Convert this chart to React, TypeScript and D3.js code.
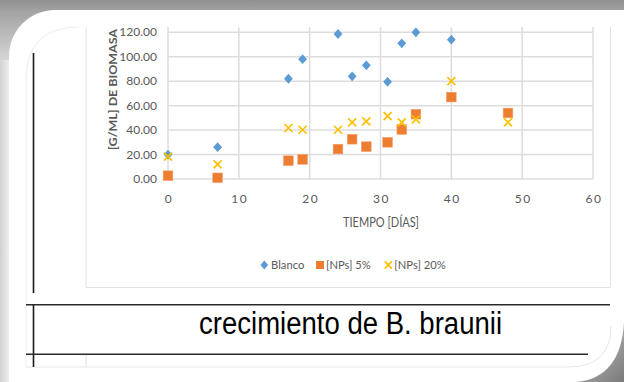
import React from 'react';
import * as d3 from 'd3';

// ---- data ----
const blancoDays = [0, 7, 17, 19, 24, 26, 28, 31, 33, 35, 40];
const blancoValues = [20, 26, 82, 98, 118.6, 84, 93, 79.5, 111, 120, 114];
const nps5Days = [0, 7, 17, 19, 24, 26, 28, 31, 33, 35, 40, 48];
const nps5Values = [2.7, 1, 15, 16, 24.5, 32.5, 26.5, 30, 40.5, 53, 67, 54];
const nps20Days = [0, 7, 17, 19, 24, 26, 28, 31, 33, 35, 40, 48];
const nps20Values = [18.3, 12, 41.7, 40.3, 40.3, 46.3, 47.2, 51.5, 46.4, 48.8, 80, 46.4];
const xTicks = [0, 10, 20, 30, 40, 50, 60];
const yTicks = [0, 20, 40, 60, 80, 100, 120];
const legendLabels = ['Blanco', '[NPs] 5%', '[NPs] 20%'];
const yTitle = '[G/ML] DE BIOMASA';
const xTitle = 'TIEMPO [DÍAS]';
const caption = 'crecimiento de B. braunii';

const W = 624;
const H = 382;
const BLUE = '#5B9BD5';
const ORANGE = '#ED7D31';
const YELLOW = '#FFC000';
const GRID = '#dcdcdc';
const TXT = '#595959';
const FONT = 'Lato, "Open Sans", sans-serif';

function diamondPath(w: number, h: number) {
  const p = d3.path();
  p.moveTo(0, -h);
  p.lineTo(w, 0);
  p.lineTo(0, h);
  p.lineTo(-w, 0);
  p.closePath();
  return p.toString();
}

export default function App() {
  const x = d3.scaleLinear().domain([0, 60]).range([168, 593]);
  const y = d3.scaleLinear().domain([0, 120]).range([179, 32.3]);
  const plotTop = 27;

  const diamond = diamondPath(4.4, 4.9);
  const diamondSmall = diamondPath(3.8, 4.4);

  const xMark = (cx: number, cy: number, r: number, key: string) => (
    <path
      key={key}
      d={`M${cx - r},${cy - r}L${cx + r},${cy + r}M${cx - r},${cy + r}L${cx + r},${cy - r}`}
      stroke={YELLOW}
      strokeWidth={1.7}
      fill="none"
    />
  );

  return (
    <svg width={W} height={H} style={{ position: 'fixed', left: 0, top: 0 }}>
      <defs>
        <linearGradient id="bg" x1="0" y1="0" x2="0" y2="1">
          <stop offset="0" stopColor="#8f8f8f" />
          <stop offset="0.03" stopColor="#a3a3a3" />
          <stop offset="0.16" stopColor="#d6d6d6" />
          <stop offset="1" stopColor="#dedede" />
        </linearGradient>
        <linearGradient id="leftStrip" x1="0" y1="0" x2="1" y2="0">
          <stop offset="0" stopColor="#d2d2d2" />
          <stop offset="1" stopColor="#eeeeee" />
        </linearGradient>
        <linearGradient id="shadow" x1="0.2" y1="0" x2="1" y2="1">
          <stop offset="0" stopColor="#d4d4d4" />
          <stop offset="0.5" stopColor="#a0a0a0" />
          <stop offset="1" stopColor="#7a7a7a" />
        </linearGradient>
      </defs>

      {/* frame background */}
      <rect x={0} y={0} width={W} height={H} fill="url(#bg)" />
      <rect x={0} y={60} width={9} height={H - 60} fill="url(#leftStrip)" />
      <path d={`M9,56 A46,46 0 0 1 55,10 L${W},10 L${W},${H} L9,${H} Z`} fill="#ffffff" />
      <path d={`M${W},322 Q${W - 3},378 576,${H} L${W},${H} Z`} fill="url(#shadow)" />

      {/* faint card outline */}
      <path d="M26,367 L26,80 Q26,27 79,27" fill="none" stroke="#ececec" strokeWidth={1} />
      <path d="M26,367 L568,367 Q611,367 611,326" fill="none" stroke="#e6e6e6" strokeWidth={1} />

      {/* chart area border */}
      <line x1={86} x2={86} y1={plotTop} y2={287} stroke="#e2e2e2" strokeWidth={1} />
      <line x1={610.5} x2={610.5} y1={plotTop} y2={287} stroke="#e2e2e2" strokeWidth={1} />
      <line x1={86} x2={610.5} y1={287.5} y2={287.5} stroke="#e2e2e2" strokeWidth={1} />

      {/* gridlines */}
      {yTicks.map((t) => (
        <line key={'gy' + t} x1={x(0)} x2={x(60)} y1={y(t)} y2={y(t)} stroke={GRID} strokeWidth={1.5} />
      ))}
      {xTicks.map((t) => (
        <line key={'gx' + t} x1={x(t)} x2={x(t)} y1={plotTop} y2={y(0)} stroke={GRID} strokeWidth={1.5} />
      ))}

      {/* tick labels */}
      {yTicks.map((t) => (
        <text key={'ly' + t} x={157} y={y(t) + 4} textAnchor="end" fontFamily={FONT} fontSize={12} fill={TXT}>
          {t.toFixed(2)}
        </text>
      ))}
      {xTicks.map((t) => (
        <text
          key={'lx' + t}
          x={x(t) + 1}
          y={203}
          textAnchor="middle"
          fontFamily={FONT}
          fontSize={12}
          letterSpacing={1.5}
          fill={TXT}
        >
          {t}
        </text>
      ))}

      {/* axis titles */}
      <text
        transform="translate(116.5,89.5) rotate(-90)"
        textAnchor="middle"
        fontFamily={FONT}
        fontSize={12}
        fontWeight={700}
        fill={TXT}
        textLength={121}
        lengthAdjust="spacingAndGlyphs"
      >
        {yTitle}
      </text>
      <text
        x={381}
        y={226.5}
        textAnchor="middle"
        fontFamily={FONT}
        fontSize={12.5}
        fill={TXT}
        textLength={76}
        lengthAdjust="spacingAndGlyphs"
      >
        {xTitle}
      </text>

      {/* series */}
      {blancoDays.map((d, i) => (
        <path key={'b' + i} d={diamond} transform={`translate(${x(d)},${y(blancoValues[i])})`} fill={BLUE} />
      ))}
      {nps5Days.map((d, i) => (
        <rect
          key={'o' + i}
          x={x(d) - 4.8}
          y={y(nps5Values[i]) - 4.8}
          width={9.6}
          height={9.6}
          fill={ORANGE}
          stroke="#f19a63"
          strokeWidth={0.6}
        />
      ))}
      {nps20Days.map((d, i) => xMark(x(d), y(nps20Values[i]), 4, 'y' + i))}

      {/* legend */}
      <path d={diamondSmall} transform="translate(264.3,265)" fill={BLUE} />
      <text x={271} y={269} fontFamily={FONT} fontSize={12} fill={TXT} textLength={33.3} lengthAdjust="spacingAndGlyphs">
        {legendLabels[0]}
      </text>
      <rect x={316} y={261} width={8} height={8} fill={ORANGE} />
      <text x={326} y={269} fontFamily={FONT} fontSize={12} fill={TXT} textLength={44.7} lengthAdjust="spacingAndGlyphs">
        {legendLabels[1]}
      </text>
      {xMark(388.3, 265, 3.6, 'legx')}
      <text x={394.3} y={269} fontFamily={FONT} fontSize={12} fill={TXT} textLength={51.4} lengthAdjust="spacingAndGlyphs">
        {legendLabels[2]}
      </text>

      {/* table lines */}
      <line x1={33.5} x2={33.5} y1={53} y2={293} stroke="#1a1a1a" strokeWidth={1.6} />
      <line x1={33.5} x2={33.5} y1={304} y2={367} stroke="#1a1a1a" strokeWidth={1.6} />
      <line x1={26} x2={610} y1={304.8} y2={304.8} stroke="#2a2a2a" strokeWidth={1.6} />
      <line x1={26} x2={588} y1={354.2} y2={354.2} stroke="#2a2a2a" strokeWidth={1.6} />
      <line x1={86} x2={86} y1={355} y2={367} stroke="#e0e0e0" strokeWidth={1} />

      {/* caption */}
      <text
        x={199}
        y={333.5}
        fontFamily='"Liberation Sans", Arial, sans-serif'
        fontSize={31}
        fill="#000000"
        textLength={303}
        lengthAdjust="spacingAndGlyphs"
      >
        {caption}
      </text>
    </svg>
  );
}
